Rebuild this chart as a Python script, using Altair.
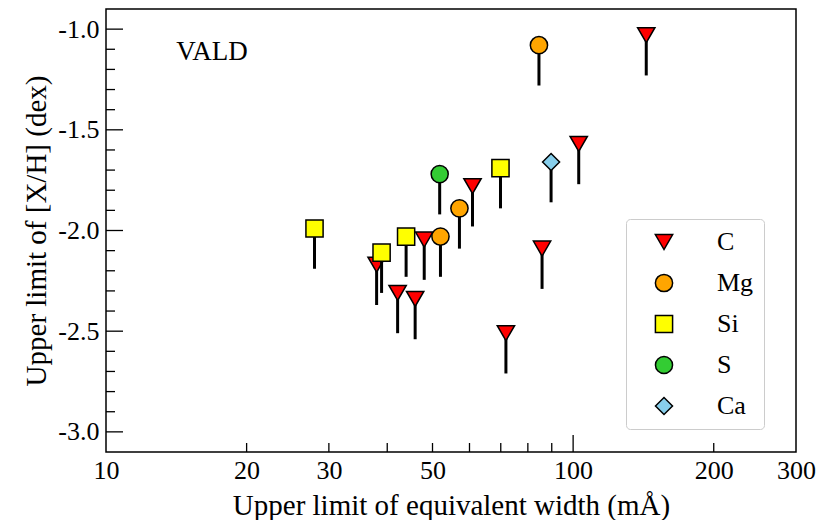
import altair as alt
import pandas as pd

# ---------------- data ----------------
elements = ["C", "Mg", "Si", "S", "Ca"]
colors = ["#ff0000", "#ffa500", "#ffff00", "#33cc33", "#87ceeb"]
shapes = ["triangle-down", "circle", "square", "circle", "diamond"]
sizes = [300, 290, 225, 290, 340]

c_ew = [37.96, 42.1, 45.9, 48.0, 60.9, 71.8, 85.8, 102.8, 143.4]
c_xh = [-2.17, -2.31, -2.34, -2.045, -1.78, -2.51, -2.09, -1.57, -1.03]
mg_ew = [52.0, 57.1, 84.5]
mg_xh = [-2.03, -1.89, -1.08]
si_ew = [27.95, 38.9, 43.9, 69.9]
si_xh = [-1.99, -2.11, -2.03, -1.69]
s_ew = [51.8]
s_xh = [-1.72]
ca_ew = [89.7]
ca_xh = [-1.66]

x_labels = [10, 20, 30, 50, 100, 200, 300]
x_major_ticks = [100]
x_minor_ticks = [20, 30, 40, 50, 60, 70, 80, 90, 200]
y_labels = [-3.0, -2.5, -2.0, -1.5, -1.0]
y_minor_ticks = [-2.9, -2.8, -2.7, -2.6, -2.4, -2.3, -2.2, -2.1,
                 -1.9, -1.8, -1.7, -1.6, -1.4, -1.3, -1.2, -1.1]

annot_text = ["VALD"]
annot_x = [14.13]
annot_y = [-1.152]

# ---------------- tables ----------------
rows = []
for el, ews, xhs in [("C", c_ew, c_xh), ("Mg", mg_ew, mg_xh), ("Si", si_ew, si_xh),
                     ("S", s_ew, s_xh), ("Ca", ca_ew, ca_xh)]:
    for e, v in zip(ews, xhs):
        rows.append({"el": el, "ew": e, "xh": v})
df = pd.DataFrame(rows)

W, H = 690, 443
FONT = "Liberation Serif"
xscale = alt.Scale(type="log", domain=[10, 300])
yscale = alt.Scale(domain=[-3.1, -0.9])

XTITLE = "Upper limit of equivalent width (mÅ)"
YTITLE = "Upper limit of [X/H] (dex)"
x_axis = alt.Axis(values=x_labels, format="d", labelFlush=False,
                  labelPadding=5, titleX=W / 2, titleY=62,
                  titleBaseline="alphabetic", titleAlign="center")
y_axis = alt.Axis(values=y_labels, labelFlush=False,
                  labelExpr="(datum.value < 0 ? '-' : '') + format(abs(datum.value), '.1f')",
                  labelPadding=7, titleX=-61, titleY=H / 2,
                  titleBaseline="alphabetic", titleAlign="center", titleAngle=-90)


def X(field):
    return alt.X(field, scale=xscale, axis=x_axis, title=XTITLE)


def Y(field):
    return alt.Y(field, scale=yscale, axis=y_axis, title=YTITLE)


layers = []
for i, el in enumerate(elements):
    sub = alt.Chart(df).transform_filter(alt.datum.el == el)
    rule = sub.transform_calculate(lo="datum.xh - 0.2").mark_rule(
        color="black", strokeWidth=3).encode(
        x=X("ew:Q"), y=Y("xh:Q"), y2="lo:Q")
    pts = sub.mark_point(filled=True, stroke="black", strokeWidth=1.5, opacity=1).encode(
        x=X("ew:Q"), y=Y("xh:Q"),
        color=alt.Color("el:N", scale=alt.Scale(domain=elements, range=colors), title=None),
        shape=alt.Shape("el:N", scale=alt.Scale(domain=elements, range=shapes), title=None),
        size=alt.Size("el:N", scale=alt.Scale(domain=elements, range=sizes), title=None),
    )
    layers += [rule, pts]

xt_major = alt.Chart(pd.DataFrame({"t": x_major_ticks})).mark_rule(
    color="black", strokeWidth=1.3).encode(
    x=X("t:Q"), y=alt.value(H), y2=alt.value(H - 17))
xt_minor = alt.Chart(pd.DataFrame({"t": x_minor_ticks})).mark_rule(
    color="black", strokeWidth=1.3).encode(
    x=X("t:Q"), y=alt.value(H), y2=alt.value(H - 9))
yt_major = alt.Chart(pd.DataFrame({"t": y_labels})).mark_rule(
    color="black", strokeWidth=1.3).encode(
    y=Y("t:Q"), x=alt.value(0), x2=alt.value(17))
yt_minor = alt.Chart(pd.DataFrame({"t": y_minor_ticks})).mark_rule(
    color="black", strokeWidth=1.3).encode(
    y=Y("t:Q"), x=alt.value(0), x2=alt.value(9))

annot = alt.Chart(pd.DataFrame({"t": annot_text, "x": annot_x, "y": annot_y})).mark_text(
    align="left", baseline="alphabetic", font=FONT, fontSize=27, color="black").encode(
    x=X("x:Q"), y=Y("y:Q"), text="t:N")

chart = alt.layer(xt_major, xt_minor, yt_major, yt_minor, annot, *layers).properties(
    width=W, height=H,
    padding={"left": 98, "top": 1, "right": 23, "bottom": 68},
    autosize=alt.AutoSizeParams(type="none"),
).configure_view(stroke="black", strokeWidth=1.5).configure_axis(
    domain=False, ticks=False, grid=False,
    labelFont=FONT, labelFontSize=26, labelColor="black",
    titleFont=FONT, titleFontSize=29, titleFontWeight="normal", titleColor="black",
).configure_legend(
    orient="none", legendX=520, legendY=210, padding=10, rowPadding=15,
    strokeColor="#cccccc", cornerRadius=4, fillColor="white",
    symbolStrokeColor="black", symbolStrokeWidth=1.5, symbolOffset=15, labelOffset=40,
    labelFont=FONT, labelFontSize=26, labelColor="black", labelLimit=200,
)

chart.save("out.html", embed_options={"renderer": "svg", "actions": False})
